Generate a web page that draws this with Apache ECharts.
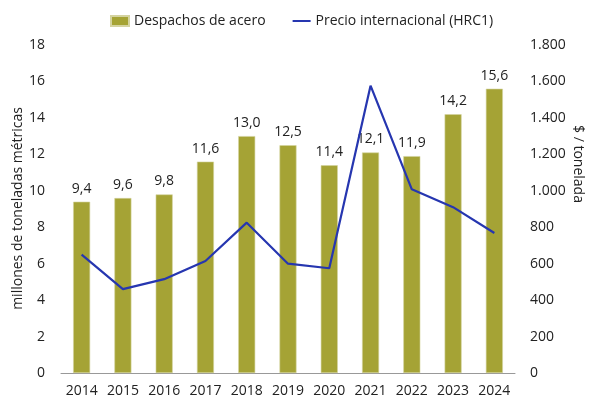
<!DOCTYPE html>
<html>
<head>
<meta charset="utf-8">
<script src="https://cdn.jsdelivr.net/npm/echarts@6/dist/echarts.min.js"></script>
<style>
  html, body { margin: 0; padding: 0; background: #fff; }
  #chart { width: 590px; height: 401px; }
</style>
</head>
<body>
<div id="chart"></div>
<script>
  // datos
  var years = ['2014', '2015', '2016', '2017', '2018', '2019', '2020', '2021', '2022', '2023', '2024']
  var despachos = [9.4, 9.6, 9.8, 11.6, 13.0, 12.5, 11.4, 12.1, 11.9, 14.2, 15.6]
  var precioHRC1 = [650, 460, 515, 615, 825, 600, 575, 1577, 1008, 910, 768]

  var font = '"Open Sans", "Noto Sans", sans-serif'
  // linea delgada para la leyenda (los triangulos vacios fijan la caja)
  var lineIcon = 'path://M0,4 L20,4 L20,6.2 L0,6.2 Z M10,0 L10.001,0 L10,0 Z M10,10 L10.001,10 L10,10 Z'
  var chart = echarts.init(document.getElementById('chart'))

  chart.setOption({
    animation: false,
    textStyle: { fontFamily: font },
    legend: {
      top: 9,
      left: 105,
      itemGap: 27,
      itemWidth: 18,
      itemHeight: 10,
      textStyle: { fontSize: 14, color: '#222', fontFamily: font },
      data: [
        { name: 'Despachos de acero', icon: 'rect' },
        { name: 'Precio internacional (HRC1)', icon: lineIcon }
      ]
    },
    grid: { left: 61, right: 75, top: 45, bottom: 28 },
    xAxis: {
      type: 'category',
      data: years,
      axisLine: { lineStyle: { color: '#999' } },
      axisTick: { show: false },
      axisLabel: { interval: 0, fontSize: 14, color: '#222', margin: 11, fontFamily: font }
    },
    yAxis: [
      {
        type: 'value',
        min: 0, max: 18, interval: 2,
        splitLine: { show: false },
        axisLabel: { fontSize: 14, color: '#222', margin: 16, fontFamily: font }
      },
      {
        type: 'value',
        min: 0, max: 1800, interval: 200,
        splitLine: { show: false },
        axisLabel: {
          fontSize: 14, color: '#222', margin: 15, fontFamily: font,
          formatter: function (v) { return v.toLocaleString('de-DE') }
        }
      }
    ],
    graphic: [
      {
        type: 'text', left: 11, top: 107, rotation: Math.PI / 2,
        style: { text: 'millones de toneladas métricas', font: '14px ' + font, fill: '#222' }
      },
      {
        type: 'text', x: 585, y: 125, rotation: -Math.PI / 2,
        style: { text: '$ / tonelada', font: '14px ' + font, fill: '#222' }
      }
    ],
    series: [
      {
        name: 'Despachos de acero',
        type: 'bar',
        data: despachos,
        barWidth: 17,
        itemStyle: { color: '#a5a335', borderColor: '#d4d3a0', borderWidth: 0.6 },
        label: {
          show: true, position: 'top', distance: 6,
          fontSize: 14, color: '#222', fontFamily: font,
          formatter: function (p) { return p.value.toFixed(1).replace('.', ',') }
        }
      },
      {
        name: 'Precio internacional (HRC1)',
        type: 'line',
        yAxisIndex: 1,
        data: precioHRC1,
        symbol: 'none',
        lineStyle: { color: '#2636b0', width: 2.2 },
        itemStyle: { color: '#2636b0' }
      }
    ]
  })
</script>
</body>
</html>
